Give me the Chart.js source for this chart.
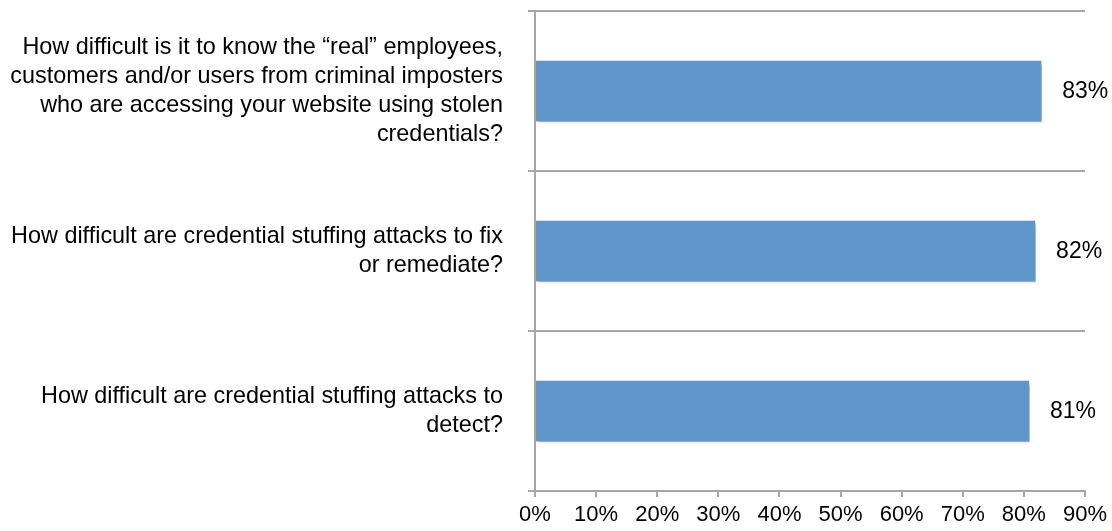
<!DOCTYPE html>
<html>
<head>
<meta charset="utf-8">
<script src="https://cdn.jsdelivr.net/npm/chart.js@4"></script>
<style>
  html, body { margin: 0; padding: 0; background: #fff; }
  #wrap { width: 1112px; height: 531px; }
</style>
</head>
<body>
<div id="wrap"><canvas id="chart"></canvas></div>
<script>
// ===== DATA =====
const questions = [
  ['How difficult is it to know the \u201creal\u201d employees,',
   'customers and/or users from criminal imposters',
   'who are accessing your website using stolen',
   'credentials?'],
  ['How difficult are credential stuffing attacks to fix',
   'or remediate?'],
  ['How difficult are credential stuffing attacks to',
   'detect?']
];
const difficultPct = [83, 82, 81];
const axisTicks = [0, 10, 20, 30, 40, 50, 60, 70, 80, 90];

const GRID = '#A6A6A6';
const FONT = 'Liberation Sans, Arial, Helvetica, sans-serif';

// drop shadow under the bars
const barShadow = {
  id: 'barShadow',
  beforeDatasetsDraw(chart) {
    const ctx = chart.ctx;
    ctx.save();
    ctx.shadowColor = 'rgba(0,0,0,0.35)';
    ctx.shadowBlur = 4;
    ctx.shadowOffsetX = 2;
    ctx.shadowOffsetY = 3;
  },
  afterDatasetsDraw(chart) {
    chart.ctx.restore();
  }
};

// percentage text right of each bar
const valueLabels = {
  id: 'valueLabels',
  afterDraw(chart) {
    const ctx = chart.ctx;
    const meta = chart.getDatasetMeta(0);
    ctx.save();
    ctx.font = '23px ' + FONT;
    ctx.fillStyle = '#000';
    ctx.textAlign = 'left';
    ctx.textBaseline = 'middle';
    meta.data.forEach((bar, i) => {
      ctx.fillText(difficultPct[i] + '%', bar.x + 20, bar.y + 1);
    });
    ctx.restore();
  }
};

new Chart(document.getElementById('chart'), {
  type: 'bar',
  data: {
    labels: questions,
    datasets: [{
      data: difficultPct,
      backgroundColor: '#6096C9',
      borderColor: 'rgba(255,255,255,0.8)',
      borderWidth: 1,
      categoryPercentage: 1,
      barPercentage: 0.39
    }]
  },
  options: {
    indexAxis: 'y',
    responsive: true,
    maintainAspectRatio: false,
    animation: false,
    layout: { padding: { top: 11, right: 26, left: 0, bottom: 0 } },
    plugins: { legend: { display: false }, tooltip: { enabled: false } },
    scales: {
      x: {
        min: 0,
        max: 90,
        afterBuildTicks: s => { s.ticks = axisTicks.map(v => ({ value: v })); },
        afterFit: s => { s.height = 40; },
        border: { color: GRID, width: 2 },
        grid: { drawOnChartArea: false, color: GRID, lineWidth: 2, tickLength: 6 },
        ticks: {
          color: '#000',
          padding: 5,
          maxRotation: 0,
          font: { family: FONT, size: 22 },
          callback: v => v + '%'
        }
      },
      y: {
        // tall multi-line labels would otherwise push the plot area in
        afterFit: s => {
          s.width = 535;
          s.paddingTop = 0;
          s.paddingBottom = 0;
        },
        border: { color: GRID, width: 2 },
        grid: { offset: true, color: GRID, lineWidth: 2, tickLength: 7 },
        ticks: {
          color: '#000',
          padding: 25,
          font: { family: FONT, size: 23.4, lineHeight: 1.23 }
        }
      }
    }
  },
  plugins: [barShadow, valueLabels]
});
</script>
</body>
</html>
